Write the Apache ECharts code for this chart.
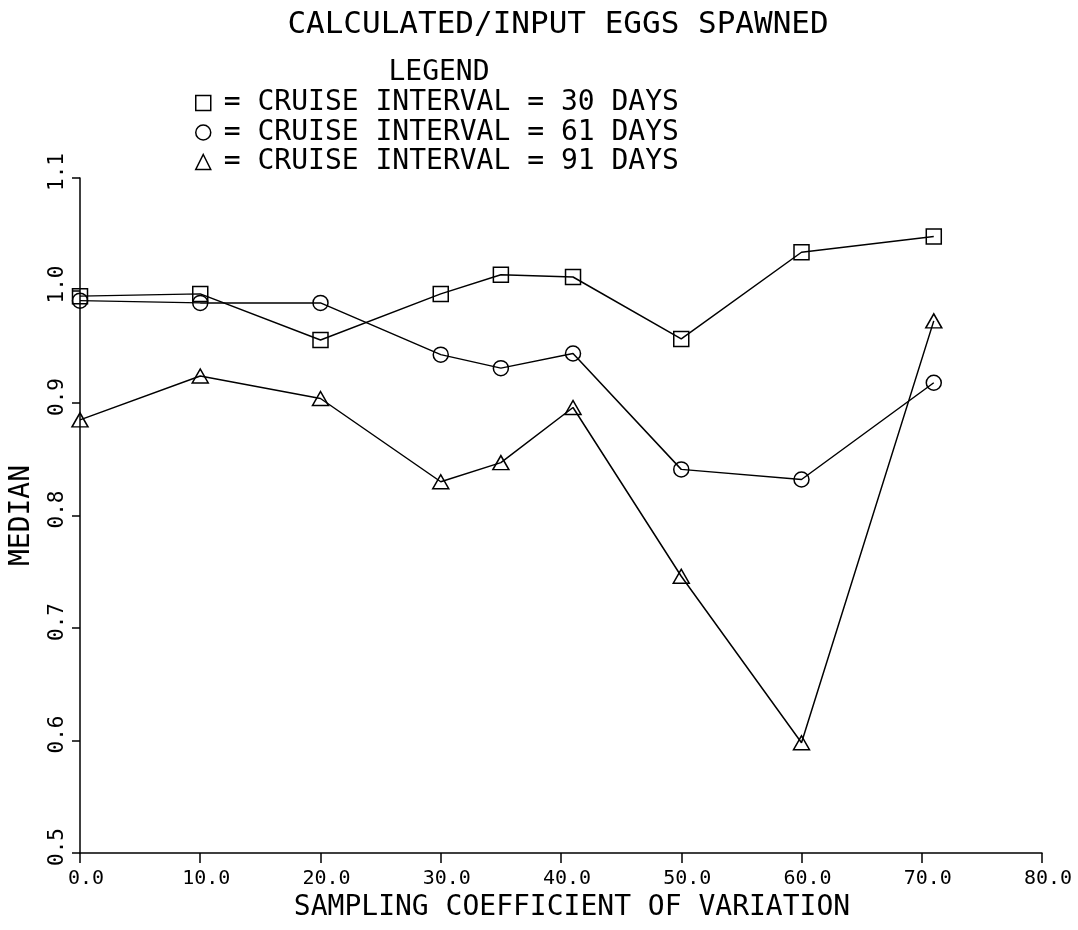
<!DOCTYPE html>
<html>
<head>
<meta charset="utf-8">
<script src="https://cdn.jsdelivr.net/npm/echarts@6/dist/echarts.min.js"></script>
<style>
  html, body { margin: 0; padding: 0; background: #ffffff; }
  #chart { width: 1078px; height: 930px; }
</style>
</head>
<body>
<div id="chart"></div>
<script>
// ---- data ----
const titleText = 'CALCULATED/INPUT EGGS SPAWNED';
const legendHeader = 'LEGEND';
const xAxisName = 'SAMPLING COEFFICIENT OF VARIATION';
const yAxisName = 'MEDIAN';

const cvValues = [0, 10, 20, 30, 35, 41, 50, 60, 71];
const interval30 = [0.995, 0.997, 0.956, 0.997, 1.014, 1.012, 0.957, 1.034, 1.048];
const interval61 = [0.991, 0.989, 0.989, 0.943, 0.931, 0.944, 0.841, 0.832, 0.918];
const interval91 = [0.885, 0.924, 0.904, 0.830, 0.847, 0.896, 0.746, 0.598, 0.973];

const seriesNames = [
  '= CRUISE INTERVAL = 30 DAYS',
  '= CRUISE INTERVAL = 61 DAYS',
  '= CRUISE INTERVAL = 91 DAYS'
];
const seriesSymbols = ['rect', 'circle', 'triangle'];

const xTicks = [0, 10, 20, 30, 40, 50, 60, 70, 80];
const yTicks = [0.5, 0.6, 0.7, 0.8, 0.9, 1.0, 1.1];

// ---- chart ----
const FONT = "'DejaVu Sans Mono', 'Liberation Mono', monospace";
const INK = '#000000';

function pairs(xs, ys) { return xs.map((x, i) => [x, ys[i]]); }

const seriesValues = [interval30, interval61, interval91];

const chart = echarts.init(document.getElementById('chart'), null, { renderer: 'canvas' });

const option = {
  animation: false,
  backgroundColor: '#ffffff',
  title: [
    {
      text: titleText,
      left: 558, top: 9, textAlign: 'center', padding: 0,
      textStyle: { fontFamily: FONT, fontSize: 31, fontWeight: 'normal', color: INK }
    },
    {
      text: legendHeader,
      left: 439, top: 59, textAlign: 'center', padding: 0,
      textStyle: { fontFamily: FONT, fontSize: 28, fontWeight: 'normal', color: INK }
    }
  ],
  legend: {
    orient: 'vertical',
    left: 195, top: 89, padding: 0,
    itemWidth: 15, itemHeight: 15, itemGap: 1.5,
    selectedMode: false,
    data: seriesNames.map((n, i) => ({ name: n, icon: seriesSymbols[i] })),
    itemStyle: { color: 'transparent', borderColor: INK, borderWidth: 1.5 },
    textStyle: { fontFamily: FONT, fontSize: 28, lineHeight: 28, color: INK, padding: [0, 0, 0, 8] }
  },
  grid: { left: 78, right: 36, top: 178, bottom: 77, containLabel: false },
  xAxis: {
    type: 'value', min: 0, max: 80, interval: 10,
    name: xAxisName, nameLocation: 'middle', nameGap: 40,
    nameTextStyle: { fontFamily: FONT, fontSize: 28, color: INK, padding: [0, 0, 0, 22] },
    axisLine: { show: true, onZero: false, lineStyle: { color: INK, width: 1.5 } },
    axisTick: { show: true, inside: false, length: 10, lineStyle: { color: INK, width: 1.5 } },
    splitLine: { show: false },
    axisLabel: {
      margin: 16, color: INK, fontFamily: FONT, fontSize: 20, padding: [0, 0, 0, 12],
      formatter: v => (xTicks.indexOf(v) >= 0 ? v.toFixed(1) : '')
    }
  },
  yAxis: {
    type: 'value', min: 0.5, max: 1.1, interval: 0.1,
    name: yAxisName, nameLocation: 'middle', nameGap: 44,
    nameTextStyle: { fontFamily: FONT, fontSize: 28, color: INK },
    axisLine: { show: true, onZero: false, lineStyle: { color: INK, width: 1.5 } },
    axisTick: { show: true, inside: false, length: 8, lineStyle: { color: INK, width: 1.5 } },
    splitLine: { show: false },
    axisLabel: {
      rotate: 90, margin: 12, color: INK, fontFamily: FONT, fontSize: 21, padding: [0, 0, 0, 12],
      formatter: v => {
        const r = Math.round(v * 10) / 10;
        return yTicks.some(t => Math.abs(t - r) < 1e-9) ? r.toFixed(1) : '';
      }
    }
  },
  series: seriesNames.map((name, i) => ({
    name: name,
    type: 'line',
    data: pairs(cvValues, seriesValues[i]),
    symbol: seriesSymbols[i],
    symbolSize: seriesSymbols[i] === 'triangle' ? [16, 14] : 15,
    showAllSymbol: true,
    lineStyle: { color: INK, width: 1.5 },
    itemStyle: { color: 'transparent', borderColor: INK, borderWidth: 1.5 },
    emphasis: { disabled: true },
    z: 2
  }))
};

chart.setOption(option);
</script>
</body>
</html>
